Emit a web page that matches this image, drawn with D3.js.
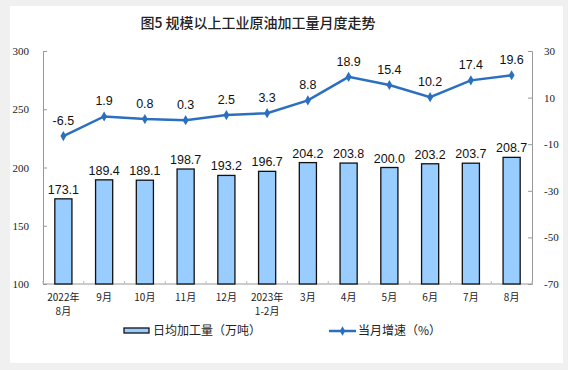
<!DOCTYPE html>
<html><head><meta charset="utf-8">
<script src="https://cdn.jsdelivr.net/npm/d3@7"></script>
<style>body{margin:0;background:#f0f0f0;} svg{display:block;}</style>
</head><body>
<svg id="c" width="568" height="370"></svg>
<script>
const categories = [["2022年","8月"],["9月"],["10月"],["11月"],["12月"],["2023年","1-2月"],["3月"],["4月"],["5月"],["6月"],["7月"],["8月"]];
const dailyOutput = [173.1,189.4,189.1,198.7,193.2,196.7,204.2,203.8,200.0,203.2,203.7,208.7];
const growthRate = [-6.5,1.9,0.8,0.3,2.5,3.3,8.8,18.9,15.4,10.2,17.4,19.6];
const leftTicks = [100,150,200,250,300];
const rightTicks = [-70,-50,-30,-10,10,30];
const title = "图5  规模以上工业原油加工量月度走势";
const legendBar = "日均加工量（万吨）";
const legendLine = "当月增速（%）";

const svg = d3.select("#c");
svg.append("rect").attr("x",10).attr("y",6).attr("width",553).attr("height",357).attr("fill","#fff");

const L=43,R=532,T=51,B=284;
const x = d3.scaleBand().domain(d3.range(categories.length)).range([L,R]).paddingInner(0.58).paddingOuter(0.29);
const xc = d3.scaleBand().domain(d3.range(categories.length)).range([L,R]);
const yL = d3.scaleLinear().domain([100,300]).range([B,T]);
const yR = d3.scaleLinear().domain([-70,30]).range([B,T]);
const cjk = "'SimSun','Noto Sans CJK SC',sans-serif";

svg.append("text").attr("x",258).attr("y",28).attr("text-anchor","middle")
  .attr("font-family","'Noto Sans CJK SC',sans-serif").attr("font-size",14).attr("font-weight",500).attr("fill","#222").text(title);

// axes
const fmt = d=>String(d);
const axL = svg.append("g").attr("transform",`translate(${L},0)`).call(d3.axisLeft(yL).tickValues(leftTicks).tickFormat(fmt).tickSize(-4).tickPadding(14));
const axR = svg.append("g").attr("transform",`translate(${R},0)`).call(d3.axisRight(yR).tickValues(rightTicks).tickFormat(fmt).tickSize(-4).tickPadding(12));
[axL,axR].forEach(a=>{
  a.select(".domain").attr("stroke","#999");
  a.selectAll(".tick line").attr("stroke","#999");
  a.selectAll("text").attr("font-family","'Liberation Serif','Times New Roman',serif").attr("font-size",11).attr("fill","#222");
});
// x axis
const axB = svg.append("g").attr("transform",`translate(0,${B})`);
axB.append("line").attr("x1",L).attr("x2",R).attr("stroke","#999");
axB.selectAll("line.t").data(d3.range(categories.length+1)).join("line").attr("class","t")
  .attr("x1",i=>L+i*xc.step()).attr("x2",i=>L+i*xc.step()).attr("y1",0).attr("y2",-3).attr("stroke","#bbb");
const xlab = [];
categories.forEach((d,i)=>d.forEach((s,j)=>xlab.push({i,j,s})));
axB.selectAll("text").data(xlab).join("text")
  .attr("x",d=>xc(d.i)+xc.bandwidth()/2).attr("y",d=>17+d.j*14)
  .attr("text-anchor","middle").attr("font-family",cjk).attr("font-size",10).attr("fill","#222").text(d=>d.s);

// bars
svg.selectAll("rect.bar").data(dailyOutput).join("rect").attr("class","bar")
  .attr("x",(d,i)=>x(i)).attr("width",x.bandwidth()).attr("y",d=>yL(d)).attr("height",d=>B-yL(d))
  .attr("fill","#99ccff").attr("stroke","#111").attr("stroke-width",1.3);
svg.selectAll("text.bl").data(dailyOutput).join("text").attr("class","bl")
  .attr("x",(d,i)=>x(i)+x.bandwidth()/2).attr("y",d=>yL(d)-5).attr("text-anchor","middle")
  .attr("font-family","'Liberation Sans',Arial,sans-serif").attr("font-size",12.5).attr("fill","#111").text(d=>d.toFixed(1));

// line
const cx = i=>xc(i)+xc.bandwidth()/2;
svg.append("path").datum(growthRate).attr("fill","none").attr("stroke","#2b6fc0").attr("stroke-width",2.5)
  .attr("d",d3.line().x((d,i)=>cx(i)).y(d=>yR(d)));
svg.selectAll("path.m").data(growthRate).join("path").attr("class","m")
  .attr("d",d3.symbol().type(d3.symbolDiamond).size(30)).attr("fill","#2b6fc0")
  .attr("transform",(d,i)=>`translate(${cx(i)},${yR(d)})`);
svg.selectAll("text.ll").data(growthRate).join("text").attr("class","ll")
  .attr("x",(d,i)=>cx(i)).attr("y",d=>yR(d)-11).attr("text-anchor","middle")
  .attr("font-family","'Liberation Sans',Arial,sans-serif").attr("font-size",12.5).attr("fill","#111").text(d=>d.toFixed(1));

// legend
svg.append("rect").attr("x",124).attr("y",328).attr("width",25).attr("height",5).attr("fill","#99ccff").attr("stroke","#111").attr("stroke-width",1.3);
svg.append("text").attr("x",153).attr("y",335).attr("font-family",cjk).attr("font-size",12).attr("fill","#222").text(legendBar);
svg.append("line").attr("x1",329).attr("x2",356).attr("y1",331).attr("y2",331).attr("stroke","#2b6fc0").attr("stroke-width",2.5);
svg.append("path").attr("d",d3.symbol().type(d3.symbolDiamond).size(25)).attr("fill","#2b6fc0").attr("transform","translate(342.5,331)");
svg.append("text").attr("x",358).attr("y",335).attr("font-family",cjk).attr("font-size",12).attr("fill","#222").text(legendLine);
</script>
</body></html>
